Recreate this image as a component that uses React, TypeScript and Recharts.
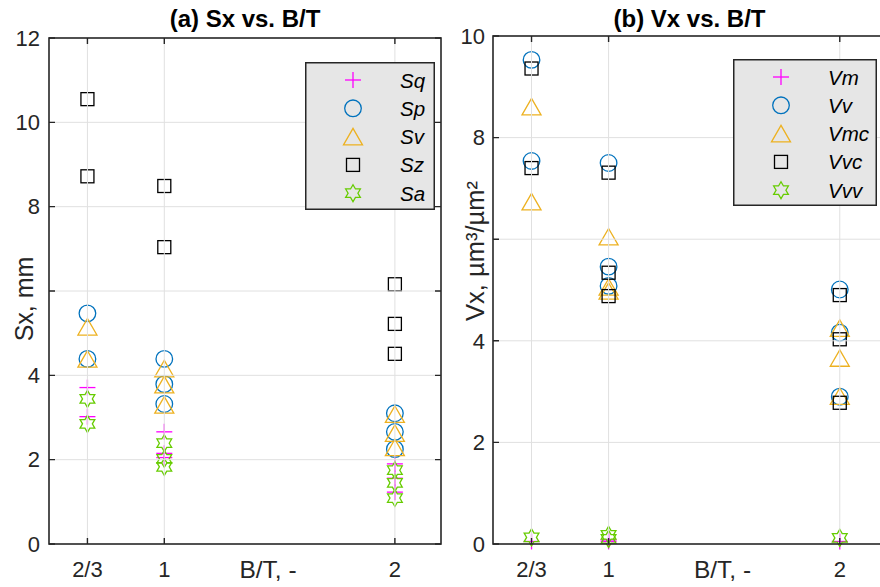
import { ScatterChart, Scatter, XAxis, YAxis, Legend } from "recharts";

// B/T groups and their tick labels
const BT = [2 / 3, 1, 2];
const BT_LABELS = ["2/3", "1", "2"];
const SX_TICKS = [0, 2, 4, 6, 8, 10, 12];
const VX_TICKS = [0, 2, 4, 6, 8, 10];

// (a) Sx, mm — one inner list per B/T group
const SQ = [[3.71, 3.02], [2.66, 2.15, 2.05], [1.9, 1.56, 1.23]];
const SP = [[5.47, 4.39], [4.39, 3.79, 3.32], [3.1, 2.66, 2.25]];
const SV = [[5.15, 4.39], [4.16, 3.78, 3.3], [3.08, 2.63, 2.29]];
const SZ = [[10.55, 8.72], [8.49, 7.04], [6.16, 5.22, 4.51]];
const SA = [[3.44, 2.85], [2.39, 2.02, 1.83], [1.75, 1.45, 1.09]];

// (b) Vx, um3/um2
const VM = [[0.05], [0.08, 0.05], [0.05]];
const VV = [[9.53, 7.54], [7.5, 5.46, 5.08], [5.01, 4.16, 2.9]];
const VMC = [[8.61, 6.74], [6.05, 5.06, 4.98], [4.25, 3.66, 2.91]];
const VVC = [[9.36, 7.4], [7.31, 5.34, 4.88], [4.9, 4.03, 2.78]];
const VVV = [[0.13], [0.18, 0.1], [0.12]];

const FONT = '"Liberation Sans", Arial, Helvetica, sans-serif';
const AXIS = "#262626";
const GRID = "#e0e0e0";
const MAGENTA = "#ff00ff";
const BLUE = "#0072bd";
const ORANGE = "#edb120";
const BLACK = "#000000";
const GREEN = "#66cc00";

const X_DOMAIN = [0.5, 2.2];
const CHART_W = 460;
const CHART_H = 587;
const PLOT_BOTTOM = 544;
const TICK = 6;

type Kind = "plus" | "circle" | "triangle" | "square" | "hexagram";

const toPoints = (groups: number[][]) =>
  groups.flatMap((g, i) => g.map((y) => ({ x: BT[i], y })));

function Marker({ kind, cx, cy, color }: { kind: Kind; cx: number; cy: number; color: string }) {
  const sw = 1.3;
  if (kind === "plus") {
    return (
      <g stroke={color} strokeWidth={sw}>
        <line x1={cx - 8} y1={cy} x2={cx + 8} y2={cy} />
        <line x1={cx} y1={cy - 8} x2={cx} y2={cy + 8} />
      </g>
    );
  }
  if (kind === "circle") {
    return <circle cx={cx} cy={cy} r={8.3} fill="none" stroke={color} strokeWidth={sw} />;
  }
  if (kind === "triangle") {
    const pts = `${cx},${cy - 8.2} ${cx - 9.5},${cy + 8.2} ${cx + 9.5},${cy + 8.2}`;
    return <polygon points={pts} fill="none" stroke={color} strokeWidth={sw} />;
  }
  if (kind === "square") {
    return <rect x={cx - 6.5} y={cy - 6.5} width={13} height={13} fill="none" stroke={color} strokeWidth={sw} />;
  }
  const R = 8.5;
  const r = R / Math.sqrt(3);
  const pts = Array.from({ length: 12 }, (_, i) => {
    const a = (-90 + i * 30) * (Math.PI / 180);
    const rad = i % 2 === 0 ? R : r;
    return `${cx + rad * Math.cos(a)},${cy + rad * Math.sin(a)}`;
  }).join(" ");
  return <polygon points={pts} fill="none" stroke={color} strokeWidth={sw} />;
}

type Series = { name: string; kind: Kind; color: string; values: number[][] };

const SX_SERIES: Series[] = [
  { name: "Sq", kind: "plus", color: MAGENTA, values: SQ },
  { name: "Sp", kind: "circle", color: BLUE, values: SP },
  { name: "Sv", kind: "triangle", color: ORANGE, values: SV },
  { name: "Sz", kind: "square", color: BLACK, values: SZ },
  { name: "Sa", kind: "hexagram", color: GREEN, values: SA },
];

const VX_SERIES: Series[] = [
  { name: "Vm", kind: "plus", color: MAGENTA, values: VM },
  { name: "Vv", kind: "circle", color: BLUE, values: VV },
  { name: "Vmc", kind: "triangle", color: ORANGE, values: VMC },
  { name: "Vvc", kind: "square", color: BLACK, values: VVC },
  { name: "Vvv", kind: "hexagram", color: GREEN, values: VVV },
];

const fmtBT = (v: number) => {
  const i = BT.findIndex((b) => Math.abs(b - v) < 1e-6);
  return i >= 0 ? BT_LABELS[i] : String(v);
};
const fmtY = (v: number) => (v === 6 ? "" : String(v));

function LegendBox({ series, w, h }: { series: Series[]; w: number; h: number }) {
  return (
    <svg width={w} height={h} style={{ display: "block" }}>
      <rect x={0.75} y={0.75} width={w - 1.5} height={h - 1.5} fill="#e6e6e6" stroke={AXIS} strokeWidth={1.5} />
      {series.map((s, i) => {
        const cy = 18 + i * 28.3;
        return (
          <g key={s.name}>
            <Marker kind={s.kind} cx={48} cy={cy} color={s.color} />
            <text x={95} y={cy + 7.5} fontFamily={FONT} fontSize={20.5} fontStyle="italic" fill="#000">
              {s.name}
            </text>
          </g>
        );
      })}
    </svg>
  );
}

// axes box with inward ticks on all four sides
function Frame({ l, r, t, b, yMax, yTicks }: { l: number; r: number; t: number; b: number; yMax: number; yTicks: number[] }) {
  const px = (v: number) => l + ((v - X_DOMAIN[0]) / (X_DOMAIN[1] - X_DOMAIN[0])) * (r - l);
  const py = (v: number) => b - (v / yMax) * (b - t);
  const d = [
    ...BT.map((v) => `M${px(v)},${b}V${b - TICK}M${px(v)},${t}V${t + TICK}`),
    ...yTicks.map((v) => `M${l},${py(v)}H${l + TICK}M${r},${py(v)}H${r - TICK}`),
  ].join("");
  return (
    <svg
      width={CHART_W}
      height={CHART_H}
      style={{ position: "absolute", left: 0, top: 0, pointerEvents: "none" }}
    >
      <rect x={l} y={t} width={r - l} height={b - t} fill="none" stroke={AXIS} strokeWidth={1.6} />
      <path d={d} stroke={AXIS} strokeWidth={1.4} fill="none" />
    </svg>
  );
}

type PanelProps = {
  left: number;
  marginTop: number;
  marginRight: number;
  yAxisWidth: number;
  yMax: number;
  yTicks: number[];
  series: Series[];
  title: string;
  yLabel: string;
  yLabelX: number;
  yLabelShift: number;
  yLabelSize: number;
  xLabelShift: number;
  yTickGap: number;
  legendLeft: number;
  legendTop: number;
  legendW: number;
  legendH: number;
};

function Panel(p: PanelProps) {
  const plotLeft = p.yAxisWidth;
  const plotRight = CHART_W - p.marginRight;
  const plotTop = p.marginTop;

  const xTick = (tp: any) => {
    const x = tp.payload.coordinate;
    return (
      <g>
        <line x1={x} y1={plotTop} x2={x} y2={PLOT_BOTTOM} stroke={GRID} strokeWidth={1} />
        <text x={x} y={576.5} textAnchor="middle" fontFamily={FONT} fontSize={22} fill={AXIS}>
          {fmtBT(tp.payload.value)}
        </text>
      </g>
    );
  };

  const yTick = (tp: any) => {
    const y = tp.payload.coordinate;
    const v = tp.payload.value;
    const edge = v === 0 || v === p.yMax;
    return (
      <g>
        {!edge && <line x1={plotLeft} y1={y} x2={plotRight} y2={y} stroke={GRID} strokeWidth={1} />}
        <text x={plotLeft - p.yTickGap} y={y + 7.8} textAnchor="end" fontFamily={FONT} fontSize={22} fill={AXIS}>
          {fmtY(v)}
        </text>
      </g>
    );
  };

  return (
    <div style={{ position: "absolute", left: p.left, top: 0, width: CHART_W, height: CHART_H }}>
      <ScatterChart
        width={CHART_W}
        height={CHART_H}
        margin={{ top: plotTop, right: p.marginRight, bottom: 0, left: 0 }}
      >
        <XAxis
          type="number"
          dataKey="x"
          domain={X_DOMAIN}
          ticks={BT}
          interval={0}
          height={CHART_H - PLOT_BOTTOM}
          axisLine={false}
          tickLine={false}
          tick={xTick}
          label={() => {
            const cx = plotLeft + (plotRight - plotLeft) / 2;
            return (
              <g>
                <text x={cx + p.xLabelShift} y={578} textAnchor="middle" fontFamily={FONT} fontSize={24.5} fill={AXIS}>
                  B/T, -
                </text>
                <text x={cx} y={27} textAnchor="middle" fontFamily={FONT} fontSize={24} fontWeight="bold" fill="#000">
                  {p.title}
                </text>
              </g>
            );
          }}
        />
        <YAxis
          type="number"
          dataKey="y"
          domain={[0, p.yMax]}
          ticks={p.yTicks}
          interval={0}
          width={p.yAxisWidth}
          axisLine={false}
          tickLine={false}
          tick={yTick}
          label={(lp: any) => {
            const vb = lp.viewBox;
            const cy = vb.y + vb.height / 2 + p.yLabelShift;
            return (
              <text
                x={p.yLabelX}
                y={cy}
                transform={`rotate(-90, ${p.yLabelX}, ${cy})`}
                textAnchor="middle"
                fontFamily={FONT}
                fontSize={p.yLabelSize}
                fill={AXIS}
              >
                {p.yLabel}
              </text>
            );
          }}
        />
        {p.series.map((s) => (
          <Scatter
            key={s.name}
            name={s.name}
            data={toPoints(s.values)}
            fill={s.color}
            isAnimationActive={false}
            shape={(sp: any) => <Marker kind={s.kind} cx={sp.cx} cy={sp.cy} color={s.color} />}
          />
        ))}
        <Legend
          layout="vertical"
          align="center"
          verticalAlign="middle"
          wrapperStyle={{ left: p.legendLeft, top: p.legendTop, width: p.legendW, height: p.legendH }}
          content={() => <LegendBox series={p.series} w={p.legendW} h={p.legendH} />}
        />
      </ScatterChart>
      <Frame l={plotLeft} r={plotRight} t={plotTop} b={PLOT_BOTTOM} yMax={p.yMax} yTicks={p.yTicks} />
    </div>
  );
}

export default function App() {
  return (
    <div style={{ position: "absolute", left: 0, top: 0, width: 880, height: 587, overflow: "hidden" }}>
      <Panel
        left={0}
        marginTop={38}
        marginRight={19}
        yAxisWidth={49}
        yMax={12}
        yTicks={SX_TICKS}
        series={SX_SERIES}
        title="(a) Sx vs. B/T"
        yLabel="Sx, mm"
        yLabelX={33}
        yLabelShift={8}
        yLabelSize={25}
        xLabelShift={23}
        yTickGap={9}
        legendLeft={305}
        legendTop={62}
        legendW={130}
        legendH={148}
      />
      <Panel
        left={440}
        marginTop={36}
        marginRight={14}
        yAxisWidth={53}
        yMax={10}
        yTicks={VX_TICKS}
        series={VX_SERIES}
        title="(b) Vx vs. B/T"
        yLabel="Vx, µm³/µm²"
        yLabelX={44}
        yLabelShift={-39}
        yLabelSize={25.5}
        xLabelShift={33}
        yTickGap={8}
        legendLeft={293}
        legendTop={59}
        legendW={144}
        legendH={147}
      />
    </div>
  );
}
